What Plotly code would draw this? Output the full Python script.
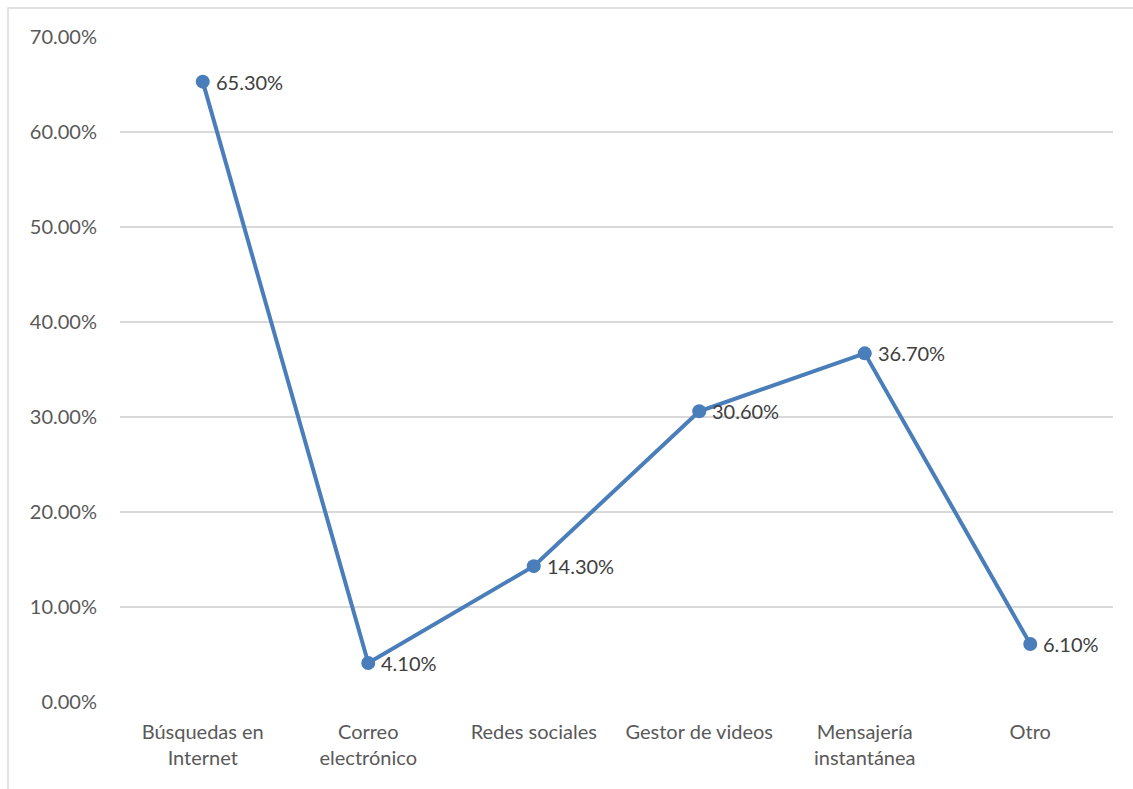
import plotly.graph_objects as go

categories = ["Búsquedas en<br>Internet", "Correo<br>electrónico", "Redes sociales",
              "Gestor de videos", "Mensajería<br>instantánea", "Otro"]
values = [0.653, 0.041, 0.143, 0.306, 0.367, 0.061]
y_ticks = [0, 0.1, 0.2, 0.3, 0.4, 0.5, 0.6, 0.7]

W, H = 1133, 789
L, R, T, B = 120, 20, 37, 87
FONT = "Lato, Open Sans, sans-serif"

fig = go.Figure()
fig.add_trace(go.Scatter(
    x=categories, y=values, mode="lines+markers",
    line=dict(color="#4A7EBB", width=4),
    marker=dict(color="#4A7EBB", size=14),
    cliponaxis=False,
    hoverinfo="skip",
))

for c, v in zip(categories, values):
    fig.add_annotation(x=c, y=v, text=f"{v*100:.2f}%", showarrow=False,
                       xanchor="left", yanchor="middle", xshift=11,
                       font=dict(family=FONT, size=20, color="#404040"))

pw = W - L - R
ph = H - T - B
fig.add_shape(type="rect", xref="paper", yref="paper",
              x0=(8 - L) / pw, x1=(W + 5 - L) / pw,
              y0=-(H + 5 - T - ph) / ph, y1=1 + (T - 8) / ph,
              line=dict(color="#D9D9D9", width=1.5), layer="below")

fig.update_layout(
    width=W, height=H,
    margin=dict(l=L, r=R, t=T, b=B),
    plot_bgcolor="white", paper_bgcolor="white",
    showlegend=False,
    font=dict(family=FONT, size=20, color="#595959"),
    xaxis=dict(range=[-0.5, 5.5], showgrid=False, showline=False, zeroline=False, ticks="",
               tickfont=dict(size=20, color="#595959"), ticklabelstandoff=16),
    yaxis=dict(range=[0, 0.7], tickvals=y_ticks, tickformat=".2%",
               showgrid=True, gridcolor="#D9D9D9", gridwidth=1.5,
               zeroline=False, showline=False, ticks="",
               tickfont=dict(size=20, color="#595959"), ticklabelstandoff=22),
)

fig.write_html("out.html")
